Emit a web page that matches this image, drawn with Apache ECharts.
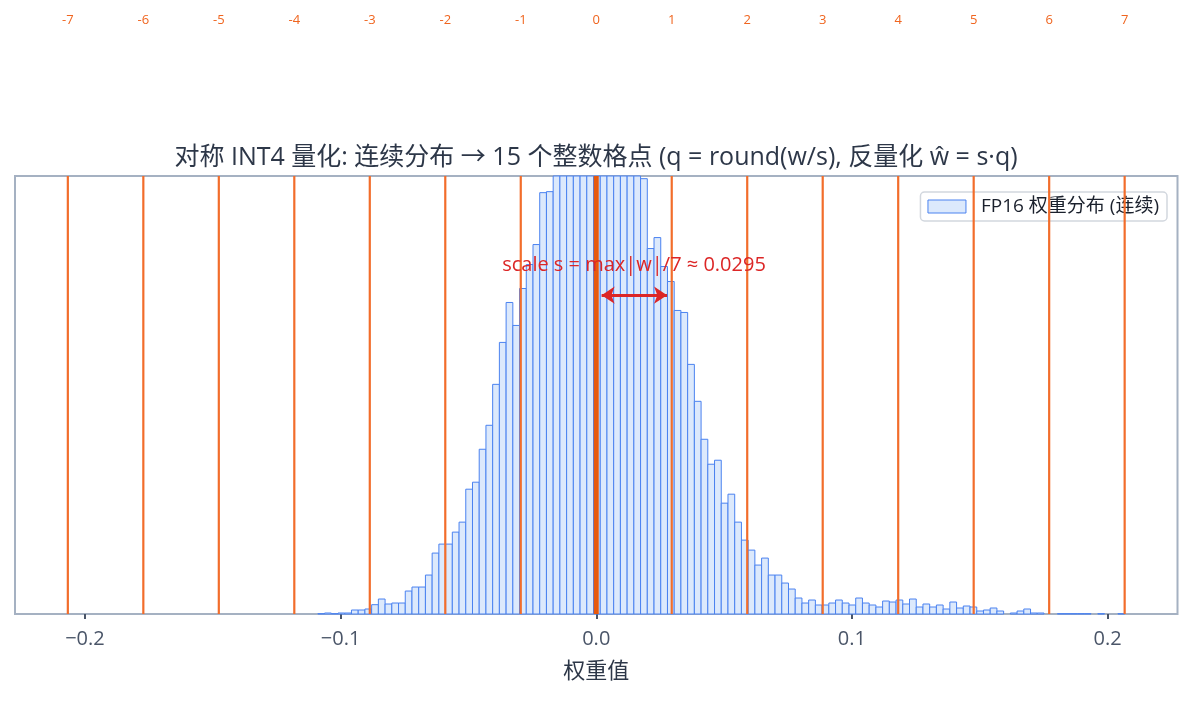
<!DOCTYPE html>
<html>
<head>
<meta charset="utf-8">
<script src="https://cdn.jsdelivr.net/npm/echarts@6/dist/echarts.min.js"></script>
<style>
html,body{margin:0;padding:0;background:#fff;}
#chart{width:1192px;height:702px;}
</style>
</head>
<body>
<div id="chart"></div>
<script>
// ---- data ----
const titleText = '对称 INT4 量化: 连续分布 → 15 个整数格点 (q = round(w/s), 反量化 ŵ = s·q)';
const seriesName = 'FP16 权重分布 (连续)';
const xAxisName = '权重值';
const annotationText = 'scale s = max|w|/7 ≈ 0.0295';
const maxAbsW = 0.2067;           // max |w|
const binStart = -0.1089;         // first histogram edge
const binWidth = 0.00263;         // histogram bin width
const counts = [
  1, 3, 1, 3, 3, 12, 12, 15, 28, 45,
  30, 33, 33, 69, 81, 81, 117, 183, 210, 210,
  246, 276, 375, 396, 495, 567, 690, 816, 936, 867,
  978, 1050, 1110, 1266, 1269, 1400, 1480, 1550, 1620, 1680,
  1720, 1750, 1760, 1740, 1700, 1640, 1560, 1470, 1308, 1098,
  1131, 1044, 999, 912, 906, 750, 639, 525, 450, 462,
  333, 360, 276, 222, 192, 147, 168, 117, 117, 93,
  75, 48, 33, 42, 27, 27, 33, 42, 33, 27,
  48, 33, 27, 21, 39, 36, 42, 30, 45, 21,
  30, 21, 27, 15, 36, 18, 24, 21, 9, 12,
  18, 9, 0, 3, 9, 15, 3, 3, 0, 0,
  1, 1, 1, 1, 1, 0, 1, 0, 0, 1
];
const qLevels = [-7, -6, -5, -4, -3, -2, -1, 0, 1, 2, 3, 4, 5, 6, 7];
const xTickValues = [-0.2, -0.1, 0, 0.1, 0.2];
const yMax = 1316;
const arrowY = 958;
const annotY = 1047;

const scaleS = maxAbsW / 7;
const xRange = 1.1 * maxAbsW;

const FONT = '"Open Sans", "Noto Sans CJK SC", sans-serif';

const histData = counts.map((c, i) => [binStart + i * binWidth, binStart + (i + 1) * binWidth, c]);
const qData = qLevels.map(q => [q * scaleS, q]);

const chart = echarts.init(document.getElementById('chart'), null, {renderer: 'canvas'});

const option = {
  animation: false,
  backgroundColor: '#ffffff',
  textStyle: {fontFamily: FONT},
  title: {
    text: titleText,
    left: 'center',
    top: 140,
    textStyle: {fontSize: 25, fontWeight: 'normal', color: '#2d3748', fontFamily: FONT}
  },
  legend: {
    data: [{name: seriesName, icon: 'rect',
            itemStyle: {color: '#dce9fc', borderColor: '#4a82f0', borderWidth: 1}}],
    right: 25,
    top: 192,
    padding: [5, 8, 5, 7],
    itemWidth: 38,
    itemHeight: 13,
    backgroundColor: '#ffffff',
    borderColor: '#d2d7de',
    borderWidth: 1.5,
    borderRadius: 4,
    textStyle: {fontSize: 19, color: '#1a202c', fontFamily: FONT, padding: [0, 0, 0, 10]}
  },
  grid: {
    left: 15, right: 14.5, top: 176, bottom: 88,
    show: true, borderColor: '#a5b1c2', borderWidth: 2, backgroundColor: 'transparent'
  },
  xAxis: {
    type: 'value',
    min: -xRange,
    max: xRange,
    name: xAxisName,
    nameLocation: 'middle',
    nameGap: 47,
    nameTextStyle: {fontSize: 22, color: '#2d3748', fontFamily: FONT},
    axisLine: {show: false},
    axisTick: {show: true, customValues: xTickValues, length: 5, lineStyle: {color: '#4a5568', width: 2}},
    axisLabel: {
      customValues: xTickValues,
      margin: 15,
      fontSize: 20,
      color: '#4a5568',
      fontFamily: FONT,
      formatter: v => (v < 0 ? '\u2212' : '') + Math.abs(v).toFixed(1)
    },
    splitLine: {show: false}
  },
  yAxis: {
    type: 'value',
    min: 0,
    max: yMax,
    show: false,
    splitLine: {show: false}
  },
  series: [
    {
      name: seriesName,
      type: 'custom',
      data: histData,
      encode: {x: [0, 1], y: 2},
      itemStyle: {color: '#dce9fc', borderColor: '#4a82f0', borderWidth: 1},
      z: 2,
      renderItem: function (params, api) {
        const c = api.value(2);
        if (!(c > 0)) return null;
        const p0 = api.coord([api.value(0), 0]);
        const p1 = api.coord([api.value(1), c]);
        const cs = params.coordSys;
        const rect = echarts.graphic.clipRectByRect(
          {x: p0[0], y: p1[1], width: p1[0] - p0[0], height: p0[1] - p1[1]},
          {x: cs.x, y: cs.y, width: cs.width, height: cs.height}
        );
        if (!rect) return null;
        return {type: 'rect', shape: rect, style: {fill: '#dce9fc', stroke: '#4a82f0', lineWidth: 1}};
      }
    },
    {
      name: 'levels',
      type: 'custom',
      data: qData,
      encode: {x: 0},
      z: 5,
      silent: true,
      renderItem: function (params, api) {
        const q = api.value(1);
        const x = api.coord([api.value(0), 0])[0];
        const cs = params.coordSys;
        return {
          type: 'group',
          children: [
            {type: 'line', shape: {x1: x, y1: cs.y, x2: x, y2: cs.y + cs.height},
             style: {stroke: q === 0 ? '#e8590c' : '#f26d2b', lineWidth: q === 0 ? 5 : 2.2}},
            {type: 'text', x: x, y: 20,
             style: {text: String(q), fill: '#f0651f', font: '13px ' + FONT, align: 'center', verticalAlign: 'middle'}}
          ]
        };
      }
    },
    {
      name: 'annotation',
      type: 'line',
      data: [],
      z: 6,
      silent: true,
      markLine: {
        silent: true,
        animation: false,
        symbol: ['arrow', 'arrow'],
        symbolSize: [13, 13],
        lineStyle: {color: '#dc2626', width: 3, type: 'solid'},
        label: {show: false},
        data: [[{coord: [0.0021, arrowY]}, {coord: [0.0277, arrowY]}]]
      },
      markPoint: {
        silent: true,
        animation: false,
        symbol: 'circle',
        symbolSize: 0,
        label: {show: true, position: 'inside', formatter: annotationText,
                fontSize: 20, color: '#dc2626', fontFamily: FONT},
        data: [{coord: [scaleS / 2, annotY]}]
      }
    }
  ]
};
chart.setOption(option);
</script>
</body>
</html>
